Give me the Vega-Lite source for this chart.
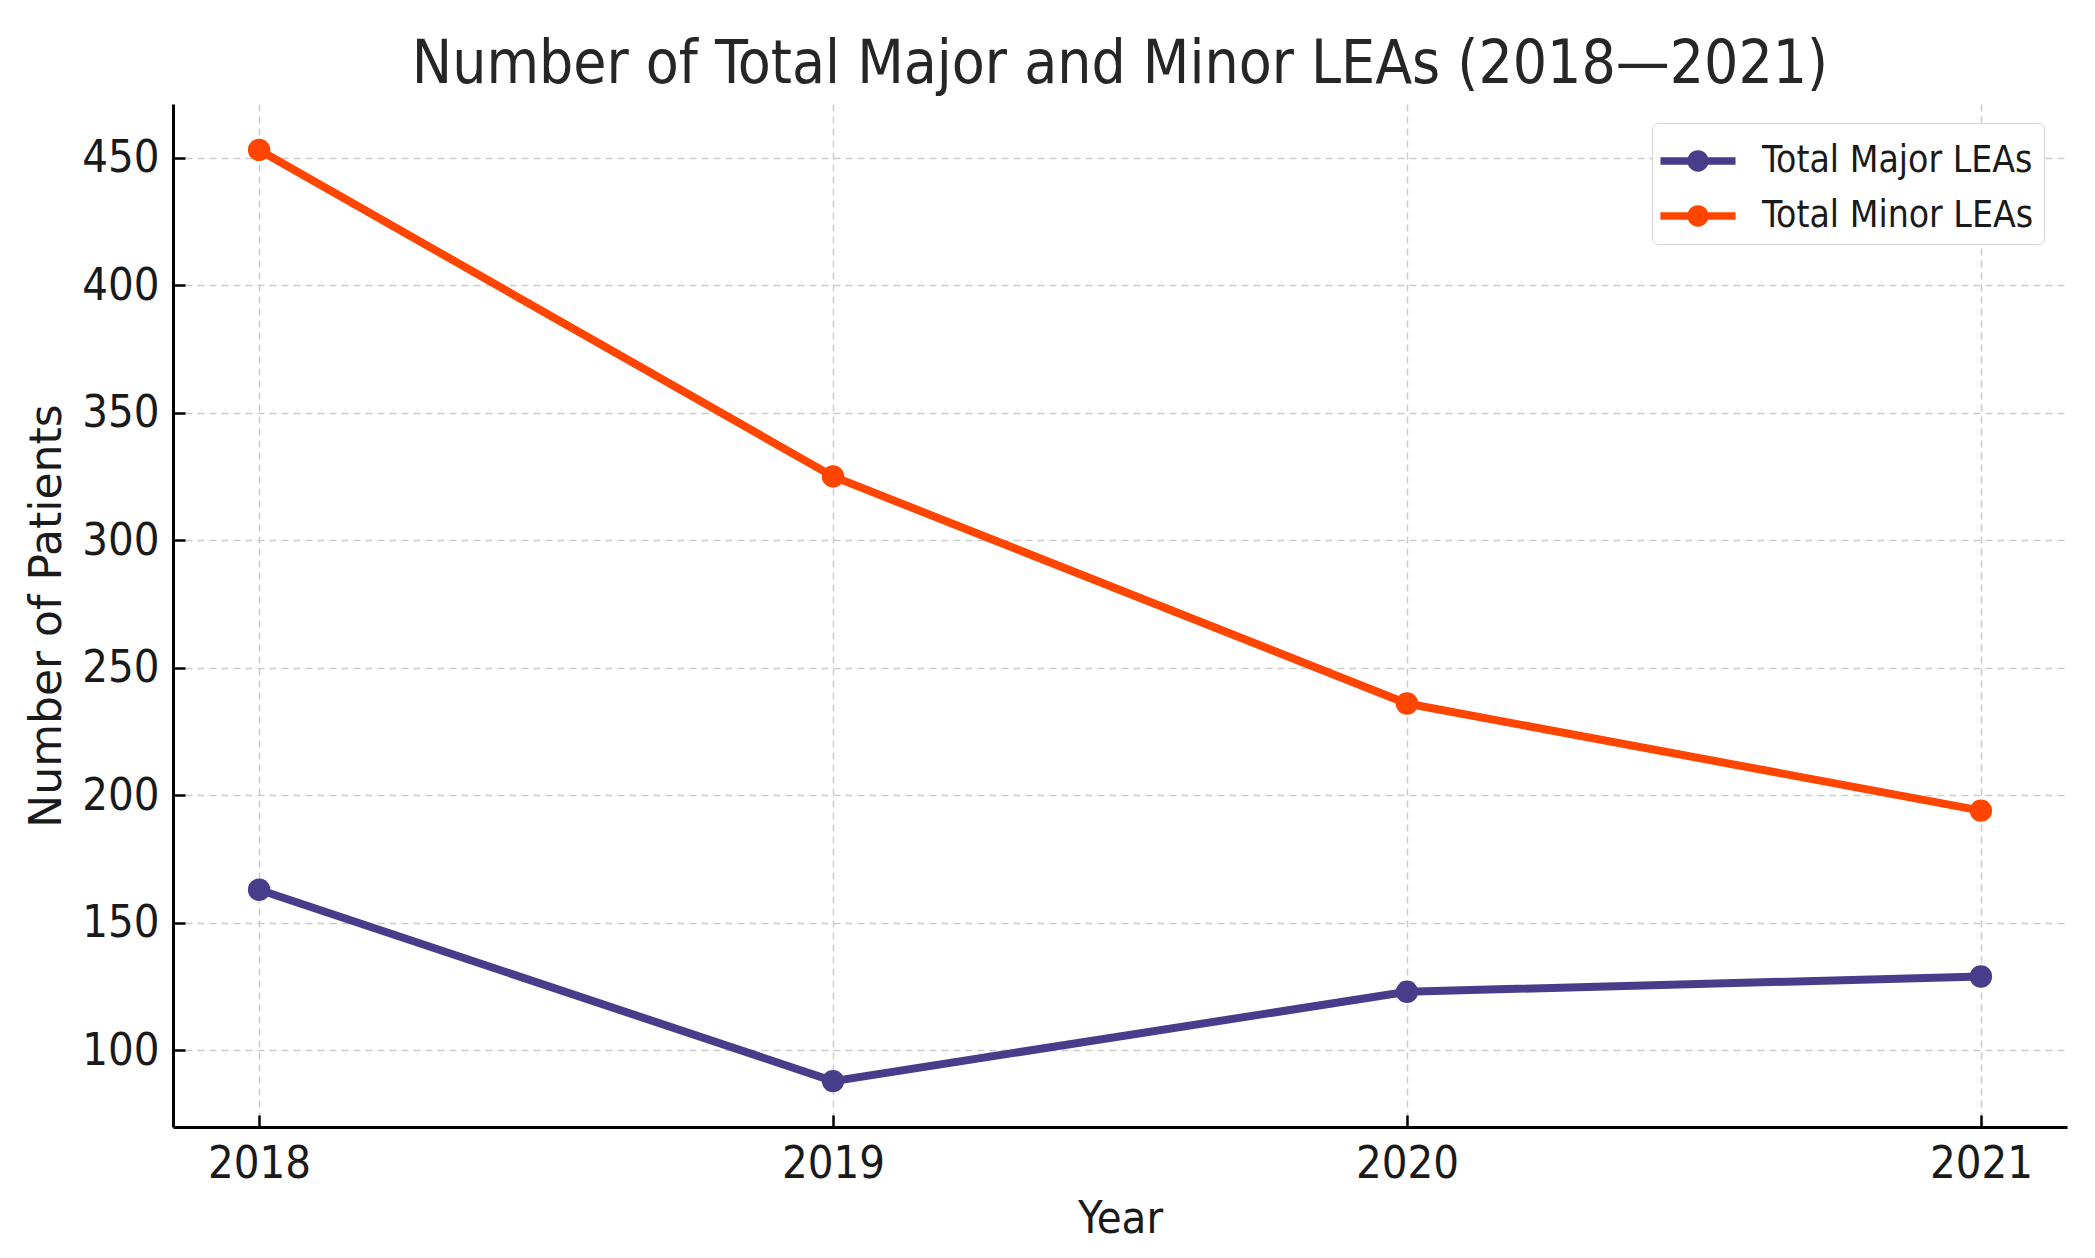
{
  "$schema": "https://vega.github.io/schema/vega-lite/v6.json",
  "autosize": {"type": "none"},
  "width": 1894,
  "height": 1023,
  "padding": {"left": 173, "top": 104, "right": 28, "bottom": 131},
  "background": "white",
  "title": {
    "text": "Number of Total Major and Minor LEAs (2018—2021)",
    "fontSize": 60,
    "font": "DejaVu Sans Condensed, DejaVu Sans",
    "fontWeight": "normal",
    "color": "#262626",
    "anchor": "middle",
    "baseline": "alphabetic",
    "offset": -39
  },
  "data": {
    "values": [
      {"year": 2018, "series": "Total Major LEAs", "value": 163},
      {"year": 2019, "series": "Total Major LEAs", "value": 88},
      {"year": 2020, "series": "Total Major LEAs", "value": 123},
      {"year": 2021, "series": "Total Major LEAs", "value": 129},
      {"year": 2018, "series": "Total Minor LEAs", "value": 453},
      {"year": 2019, "series": "Total Minor LEAs", "value": 325},
      {"year": 2020, "series": "Total Minor LEAs", "value": 236},
      {"year": 2021, "series": "Total Minor LEAs", "value": 194}
    ]
  },
  "config": {
    "view": {"stroke": null},
    "font": "DejaVu Sans Condensed, DejaVu Sans",
    "axis": {
      "labelFont": "DejaVu Sans Condensed, DejaVu Sans",
      "titleFont": "DejaVu Sans Condensed, DejaVu Sans",
      "labelFontSize": 45,
      "titleFontSize": 45,
      "titleFontWeight": "normal",
      "labelColor": "#1a1a1a",
      "titleColor": "#1a1a1a",
      "domainColor": "#000000",
      "domainWidth": 3,
      "tickColor": "#000000",
      "tickWidth": 2.5,
      "tickSize": -12,
      "gridColor": "#cccccc",
      "gridWidth": 1.5,
      "gridDash": [7, 5]
    }
  },
  "encoding": {
    "x": {
      "field": "year",
      "type": "quantitative",
      "scale": {"domain": [2017.85, 2021.15], "nice": false, "zero": false},
      "axis": {
        "title": "Year",
        "values": [2018, 2019, 2020, 2021],
        "format": "d",
        "labelPadding": 26,
        "titlePadding": 10,
        "labelFlush": false
      }
    },
    "y": {
      "field": "value",
      "type": "quantitative",
      "scale": {"domain": [70, 471], "nice": false, "zero": false},
      "axis": {
        "title": "Number of Patients",
        "titleFont": "DejaVu Sans",
        "titleFontSize": 44,
        "values": [100, 150, 200, 250, 300, 350, 400, 450],
        "labelPadding": 26,
        "titlePadding": 12
      }
    },
    "color": {
      "field": "series",
      "type": "nominal",
      "scale": {
        "domain": ["Total Major LEAs", "Total Minor LEAs"],
        "range": ["#483D8B", "#FF4500"]
      },
      "legend": {
        "title": null,
        "orient": "none",
        "legendX": 1479,
        "legendY": 19,
        "padding": 10,
        "fillColor": "white",
        "strokeColor": "#d5d5d5",
        "cornerRadius": 6,
        "labelFont": "DejaVu Sans Condensed, DejaVu Sans",
        "labelFontSize": 37,
        "labelLimit": 0,
        "labelColor": "#1a1a1a",
        "labelOffset": 36,
        "symbolOffset": 8,
        "rowPadding": 9,
        "symbolType": "M-1.34,-0.13L1.34,-0.13L1.34,0.13L-1.34,0.13Z M0.38,0A0.38,0.38,0,1,1,-0.38,0A0.38,0.38,0,1,1,0.38,0Z",
        "symbolSize": 3136,
        "symbolStrokeWidth": 0,
        "encode": {
          "symbols": {
            "update": {
              "fill": {"scale": "color", "field": "value"},
              "stroke": {"value": "transparent"},
              "opacity": {"value": 1}
            }
          }
        }
      }
    }
  },
  "layer": [
    {"mark": {"type": "line", "strokeWidth": 8}},
    {"mark": {"type": "point", "filled": true, "size": 500, "opacity": 1}}
  ]
}
